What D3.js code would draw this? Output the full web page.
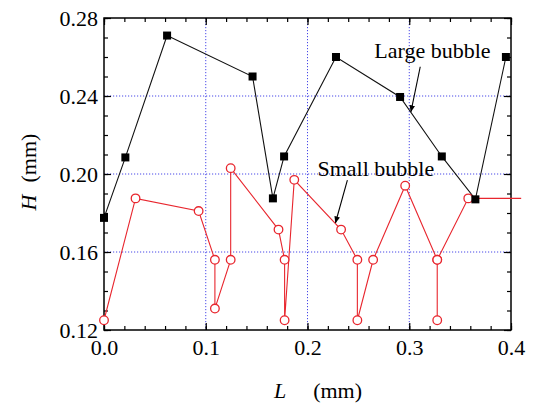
<!DOCTYPE html>
<html>
<head>
<meta charset="utf-8">
<script src="https://cdn.jsdelivr.net/npm/d3@7"></script>
<style>
  body { margin: 0; background: #fff; }
  svg text { font-family: "Liberation Serif", "Times New Roman", serif; }
</style>
</head>
<body>
<script>
// large bubble (filled squares)
var largeL = [0.000, 0.021, 0.062, 0.146, 0.166, 0.177, 0.228, 0.291, 0.332, 0.365, 0.395];
var largeH = [0.1775, 0.2085, 0.271, 0.250, 0.1875, 0.209, 0.260, 0.2395, 0.209, 0.187, 0.260];

// small bubble (open circles)
var smallL = [0.000, 0.031, 0.093, 0.109, 0.109, 0.1245, 0.1245, 0.1715, 0.1775, 0.1775, 0.187,
              0.233, 0.249, 0.249, 0.2645, 0.296, 0.3275, 0.3275, 0.3275, 0.358, 0.41];
var smallH = [0.125, 0.1875, 0.181, 0.156, 0.131, 0.156, 0.203, 0.1715, 0.156, 0.125, 0.197,
              0.1715, 0.156, 0.125, 0.156, 0.194, 0.156, 0.125, 0.156, 0.1875, 0.1875];

// ticks
var xMajor = [0, 0.1, 0.2, 0.3, 0.4];
var xLabels = ["0.0", "0.1", "0.2", "0.3", "0.4"];
var yMajor = [0.12, 0.16, 0.20, 0.24, 0.28];
var yLabels = ["0.12", "0.16", "0.20", "0.24", "0.28"];

// annotations: label, text position, arrow from, arrow to (data units)
var noteText = ["Large bubble", "Small bubble"];
var notePos = [[0.2657, 0.2595], [0.2098, 0.1990]];
var noteFrom = [[0.3108, 0.2550], [0.2392, 0.1969]];
var noteTo = [[0.3017, 0.2320], [0.2275, 0.1750]];

var margin = {top: 18, left: 104},
    width = 407,
    height = 312;

var svg = d3.select("body").append("svg")
    .attr("width", 533)
    .attr("height", 407);

var defs = svg.append("defs");
defs.append("marker")
    .attr("id", "arrow")
    .attr("viewBox", "0 0 10 10")
    .attr("refX", 9).attr("refY", 5)
    .attr("markerWidth", 7).attr("markerHeight", 7)
    .attr("markerUnits", "userSpaceOnUse")
    .attr("orient", "auto")
  .append("path")
    .attr("d", "M0,1 L10,5 L0,9 Z")
    .attr("fill", "#000");

var g = svg.append("g").attr("transform", "translate(" + margin.left + "," + margin.top + ")");

var x = d3.scaleLinear().domain([0, 0.4]).range([0, width]);
var y = d3.scaleLinear().domain([0.12, 0.28]).range([height, 0]);

// grid
var grid = g.append("g").attr("stroke", "#4848e8").attr("stroke-width", 1).attr("stroke-dasharray", "1.2,1.8");
grid.selectAll(".gx").data(xMajor.slice(1, -1)).enter().append("line")
    .attr("x1", function(d){ return x(d); }).attr("x2", function(d){ return x(d); })
    .attr("y1", 0).attr("y2", height);
grid.selectAll(".gy").data(yMajor.slice(1, -1)).enter().append("line")
    .attr("y1", function(d){ return y(d); }).attr("y2", function(d){ return y(d); })
    .attr("x1", 0).attr("x2", width);

// minor tick values
var xMinor = d3.range(0, 21).map(function(i){ return i * 0.02; });
var yMinor = d3.range(0, 17).map(function(i){ return 0.12 + i * 0.01; });

function styleAxis(sel){
  sel.select(".domain").remove();
  sel.selectAll("line").attr("stroke", "#000").attr("stroke-width", 1.2);
  sel.selectAll("text").attr("font-size", 22).attr("fill", "#000")
     .attr("font-family", "Liberation Serif, Times New Roman, serif");
}

// bottom
g.append("g").attr("transform", "translate(0," + height + ")")
  .call(d3.axisBottom(x).tickValues(xMinor).tickSize(-4).tickFormat("")).call(styleAxis);
g.append("g").attr("transform", "translate(0," + height + ")")
  .call(d3.axisBottom(x).tickValues(xMajor).tickSize(-7).tickPadding(9)
    .tickFormat(function(d, i){ return xLabels[i]; })).call(styleAxis);
// top
g.append("g").call(d3.axisTop(x).tickValues(xMinor).tickSize(-4).tickFormat("")).call(styleAxis);
g.append("g").call(d3.axisTop(x).tickValues(xMajor).tickSize(-7).tickFormat("")).call(styleAxis);
// left
g.append("g").call(d3.axisLeft(y).tickValues(yMinor).tickSize(-4).tickFormat("")).call(styleAxis);
g.append("g").call(d3.axisLeft(y).tickValues(yMajor).tickSize(-7).tickPadding(6)
    .tickFormat(function(d, i){ return yLabels[i]; })).call(styleAxis);
// right
g.append("g").attr("transform", "translate(" + width + ",0)")
  .call(d3.axisRight(y).tickValues(yMinor).tickSize(-4).tickFormat("")).call(styleAxis);
g.append("g").attr("transform", "translate(" + width + ",0)")
  .call(d3.axisRight(y).tickValues(yMajor).tickSize(-7).tickFormat("")).call(styleAxis);

// frame
g.append("rect").attr("width", width).attr("height", height)
  .attr("fill", "none").attr("stroke", "#000").attr("stroke-width", 1.5);

// lines
var line = d3.line().x(function(d){ return x(d[0]); }).y(function(d){ return y(d[1]); });
var smallPts = d3.zip(smallL, smallH);
var largePts = d3.zip(largeL, largeH);

g.append("path").datum(smallPts).attr("d", line)
  .attr("fill", "none").attr("stroke", "#e8262e").attr("stroke-width", 1.1);
g.append("path").datum(largePts).attr("d", line)
  .attr("fill", "none").attr("stroke", "#111").attr("stroke-width", 1.1);

// markers (only inside the axis range)
g.selectAll(".sm").data(smallPts.filter(function(d){ return d[0] <= 0.4; })).enter().append("circle")
  .attr("cx", function(d){ return x(d[0]); })
  .attr("cy", function(d){ return y(d[1]); })
  .attr("r", 4.3)
  .attr("fill", "#fff").attr("stroke", "#e8262e").attr("stroke-width", 1.3);

g.selectAll(".lg").data(largePts).enter().append("rect")
  .attr("x", function(d){ return x(d[0]) - 4; })
  .attr("y", function(d){ return y(d[1]) - 4; })
  .attr("width", 8).attr("height", 8)
  .attr("fill", "#000");

// annotations
noteText.forEach(function(t, i){
  g.append("text")
    .attr("x", x(notePos[i][0])).attr("y", y(notePos[i][1]))
    .attr("font-size", 22).text(t);
  g.append("line")
    .attr("x1", x(noteFrom[i][0])).attr("y1", y(noteFrom[i][1]))
    .attr("x2", x(noteTo[i][0])).attr("y2", y(noteTo[i][1]))
    .attr("stroke", "#000").attr("stroke-width", 1.1)
    .attr("marker-end", "url(#arrow)");
});

// axis titles
var yt = svg.append("text")
  .attr("transform", "translate(36,172) rotate(-90)")
  .attr("text-anchor", "middle")
  .attr("font-size", 22);
yt.append("tspan").attr("font-style", "italic").text("H");
yt.append("tspan").attr("dx", 12).text("(mm)");

var xt = svg.append("text")
  .attr("x", 318).attr("y", 398)
  .attr("text-anchor", "middle")
  .attr("font-size", 22);
xt.append("tspan").attr("font-style", "italic").text("L");
xt.append("tspan").attr("dx", 27).text("(mm)");
</script>
</body>
</html>
